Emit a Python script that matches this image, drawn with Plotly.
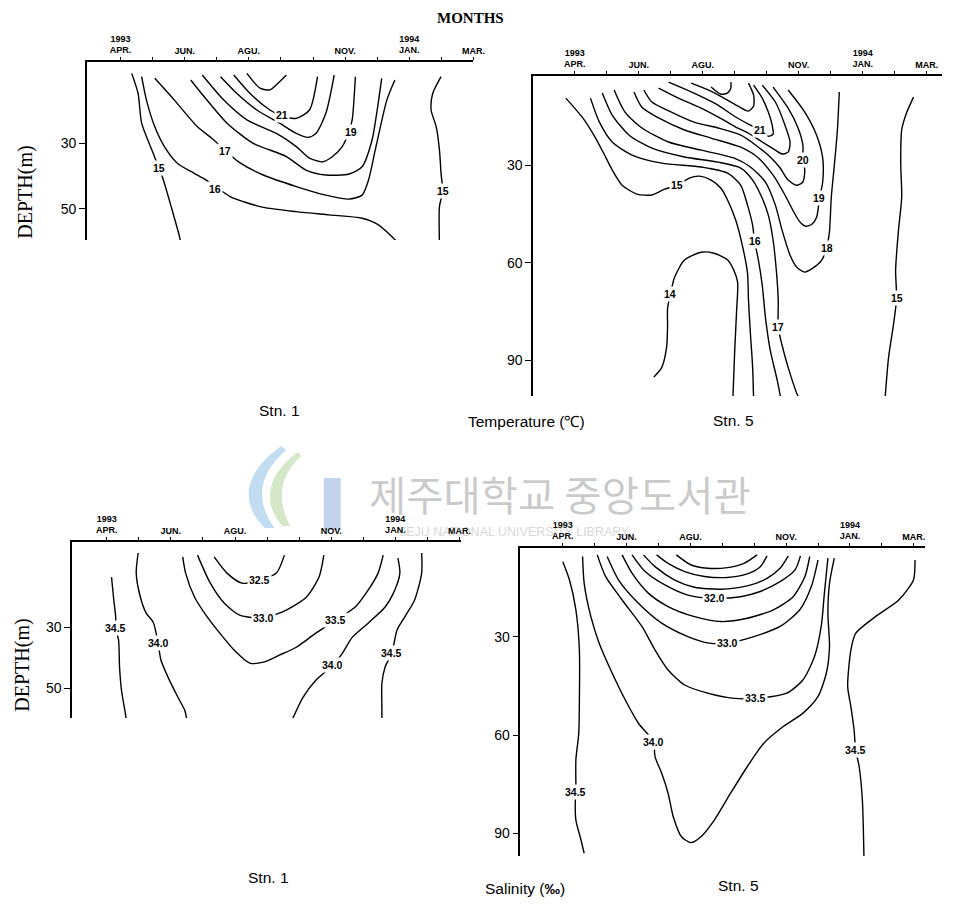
import plotly.graph_objects as go

W, H = 954, 911

# Month index along the sections: 0 = Apr 1993 ... 11 = Mar 1994
MONTH_VALS = list(range(12))
MONTH_TEXT = ["1993<br>APR.", "", "JUN.", "", "AGU.", "", "", "NOV.", "", "1994<br>JAN.", "", "MAR."]

# ---------------- Temperature, Stn. 1 : isotherms as (month, depth m) ----------------
T1_15_W = [(0.35, 8.9), (0.55, 15.0), (0.66, 24.0), (1.02, 33.1), (1.18, 37.2), (1.32, 40.7),
           (1.58, 49.3), (1.84, 58.4), (1.88, 60.5)]
T1_16 = [(0.66, 9.9), (0.81, 17.0), (1.07, 25.1), (1.37, 31.1), (1.78, 36.2), (2.30, 39.2),
         (2.66, 41.2), (3.43, 46.3), (3.84, 47.8), (4.45, 49.5), (5.48, 50.8), (6.50, 51.8),
         (7.53, 52.8), (8.04, 54.8), (8.61, 59.9), (8.65, 60.5)]
T1_17 = [(1.07, 10.4), (1.68, 17.0), (2.40, 25.1), (2.91, 29.1), (3.27, 32.3), (3.68, 35.7),
         (4.45, 39.7), (5.48, 43.2), (6.40, 45.8), (7.12, 47.0), (7.53, 45.8), (7.73, 41.2),
         (7.94, 32.1), (8.30, 17.0), (8.55, 10.9)]
T1_18 = [(2.19, 10.9), (2.61, 16.0), (3.32, 24.0), (4.14, 30.1), (5.17, 34.1), (5.78, 38.2),
         (6.40, 39.7), (7.12, 39.4), (7.53, 37.2), (7.84, 29.1), (8.00, 20.0), (8.14, 10.4)]
T1_19 = [(2.55, 9.4), (3.22, 17.0), (3.94, 23.0), (4.86, 27.1), (5.48, 31.1), (5.89, 34.6),
         (6.30, 35.7), (6.61, 34.1), (6.91, 31.1), (7.12, 26.6), (7.22, 23.0), (7.32, 9.9)]
T1_20 = [(3.12, 9.9), (3.63, 15.0), (4.25, 20.0), (4.96, 24.0), (5.48, 27.1), (5.84, 28.3),
         (6.09, 27.1), (6.40, 21.0), (6.66, 9.4)]
T1_21 = [(3.53, 9.4), (4.04, 15.0), (4.66, 20.0), (5.02, 21.8), (5.48, 22.5), (5.89, 20.0),
         (6.14, 9.9)]
T1_22 = [(3.94, 8.9), (4.35, 13.4), (4.66, 13.9), (4.91, 11.9), (5.17, 9.4)]
T1_15_E = [(9.99, 9.9), (9.73, 15.0), (9.68, 20.0), (9.84, 25.1), (9.94, 32.1), (9.99, 39.2),
           (10.04, 44.5), (9.94, 49.3), (9.94, 60.5)]
T1_LABELS = [("15", 1.20, 37.5), ("16", 2.96, 43.8), ("17", 3.27, 32.3), ("19", 7.17, 26.6),
             ("21", 5.02, 21.6), ("15", 10.04, 44.5)]

# ---------------- Temperature, Stn. 5 ----------------
T5_14 = [(2.47, 95.2), (2.72, 92.2), (2.87, 86.0), (2.90, 79.8), (2.90, 74.0), (2.99, 69.7),
         (3.12, 64.5), (3.43, 59.2), (3.95, 56.8), (4.35, 57.1), (4.78, 59.2), (4.97, 62.3),
         (5.09, 66.0), (5.06, 74.6), (5.00, 86.9), (4.94, 102.3)]
T5_15_W = [(-0.28, 9.4), (0.25, 15.5), (0.65, 21.7), (0.93, 26.9), (1.17, 31.5), (1.48, 36.2),
           (1.94, 38.9), (2.41, 39.2), (2.81, 37.4), (3.21, 36.2), (3.58, 34.0), (3.89, 33.4),
           (4.26, 34.6), (4.57, 37.1), (4.78, 40.8), (5.03, 46.9), (5.25, 55.2), (5.40, 63.2),
           (5.43, 71.5), (5.49, 81.7), (5.56, 92.2), (5.59, 102.3)]
T5_16 = [(0.49, 9.4), (0.77, 16.8), (1.17, 22.9), (1.79, 26.9), (2.72, 29.4), (3.95, 30.6),
         (4.78, 32.5), (5.19, 36.2), (5.40, 42.3), (5.56, 48.5), (5.62, 53.4), (5.74, 59.2),
         (5.86, 66.9), (5.96, 76.8), (6.11, 86.9), (6.33, 96.2), (6.45, 102.3)]
T5_17 = [(0.86, 7.8), (1.17, 14.6), (1.70, 20.8), (2.41, 24.8), (3.43, 27.5), (4.48, 29.1),
         (5.19, 30.9), (5.56, 34.6), (5.86, 40.2), (6.05, 45.4), (6.20, 53.1), (6.30, 62.3),
         (6.36, 71.5), (6.36, 79.8), (6.48, 85.4), (6.67, 92.2), (6.94, 100.2), (7.10, 103.8)]
T5_18 = [(1.23, 6.9), (1.57, 13.7), (2.10, 18.6), (2.93, 22.9), (3.95, 25.4), (4.97, 27.8),
         (5.49, 30.6), (5.96, 35.2), (6.27, 42.3), (6.48, 50.0), (6.73, 57.7), (6.94, 61.4),
         (7.19, 62.9), (7.44, 61.7), (7.72, 59.2), (7.87, 55.5), (7.96, 50.6), (8.02, 39.8),
         (8.12, 29.4), (8.21, 19.2), (8.27, 7.5)]
T5_19 = [(1.85, 7.5), (2.10, 12.2), (2.62, 15.5), (3.43, 19.2), (4.26, 21.7), (5.19, 24.5),
         (5.74, 27.8), (6.20, 33.1), (6.57, 39.2), (6.85, 44.5), (7.04, 47.5), (7.22, 48.8),
         (7.41, 48.2), (7.56, 46.0), (7.65, 40.2), (7.75, 35.2), (7.75, 27.8), (7.56, 20.8),
         (7.19, 13.7), (6.67, 6.9)]
T5_20 = [(2.16, 6.9), (2.41, 10.6), (3.02, 13.7), (3.73, 16.8), (4.48, 18.6), (5.19, 20.8),
         (5.65, 23.8), (6.11, 27.5), (6.42, 30.9), (6.67, 34.6), (6.94, 36.2), (7.13, 35.2),
         (7.19, 31.5), (7.13, 28.5), (7.13, 23.8), (6.98, 18.6), (6.67, 12.5), (6.20, 6.0)]
T5_205 = [(2.62, 6.3), (3.24, 9.4), (3.95, 12.5), (4.66, 16.2), (5.03, 18.3), (5.43, 20.2),
          (5.86, 22.9), (6.27, 25.4), (6.48, 26.6), (6.67, 26.0), (6.73, 22.9), (6.57, 17.7),
          (6.27, 10.6), (5.86, 5.4)]
T5_21 = [(2.93, 4.5), (3.64, 7.5), (4.41, 11.2), (5.03, 15.2), (5.49, 17.7), (5.80, 19.2),
         (6.05, 21.1), (6.20, 20.5), (6.17, 17.7), (6.05, 13.7), (5.86, 9.4), (5.59, 5.4)]
T5_22 = [(3.64, 4.8), (4.17, 6.9), (4.66, 9.4), (5.09, 11.8), (5.43, 13.4), (5.59, 11.8),
         (5.59, 8.5), (5.43, 4.8)]
T5_23 = [(4.26, 6.0), (4.57, 8.2), (4.78, 7.8), (4.88, 6.3), (4.88, 4.5)]
T5_15_E = [(10.59, 9.1), (10.37, 14.0), (10.22, 19.2), (10.19, 29.4), (10.22, 39.8), (10.12, 50.0),
           (10.03, 62.3), (10.06, 70.9), (9.97, 78.6), (9.81, 89.1), (9.72, 99.2), (9.70, 102.0)]
T5_LABELS = [("15", 3.21, 36.2), ("16", 5.62, 53.4), ("17", 6.36, 79.8), ("18", 7.87, 55.5),
             ("19", 7.65, 40.2), ("20", 7.13, 28.5), ("21", 5.80, 19.2), ("14", 2.99, 69.7),
             ("15", 10.06, 70.9)]

# ---------------- Salinity, Stn. 1 : isohalines ----------------
S1_345_W = [(0.15, 13.6), (0.22, 21.1), (0.28, 26.7), (0.28, 30.3), (0.37, 34.3), (0.40, 43.1),
            (0.46, 50.7), (0.58, 58.2), (0.61, 60.5)]
S1_340_W = [(0.98, 5.7), (0.92, 12.3), (1.05, 20.2), (1.23, 25.4), (1.45, 28.4), (1.60, 35.2),
            (1.69, 40.8), (1.91, 46.4), (2.22, 53.0), (2.43, 57.2), (2.50, 60.5)]
S1_335 = [(2.37, 7.0), (2.46, 12.3), (2.74, 20.2), (3.05, 25.4), (3.45, 31.0), (3.97, 37.5),
          (4.46, 41.8), (4.89, 41.5), (5.38, 39.2), (5.91, 36.6), (6.52, 32.0), (7.14, 27.7),
          (7.75, 23.4), (8.15, 17.9), (8.46, 12.3), (8.62, 6.4)]
S1_330 = [(2.83, 6.4), (3.23, 15.6), (3.66, 22.1), (4.15, 26.1), (4.89, 27.0), (5.60, 24.4),
          (6.22, 20.2), (6.62, 13.6), (6.77, 6.4)]
S1_325 = [(3.35, 7.0), (3.75, 12.3), (4.22, 15.6), (4.77, 14.6), (5.29, 12.3), (5.54, 6.4)]
S1_340_E = [(9.08, 7.4), (9.14, 12.3), (8.98, 17.9), (8.68, 23.4), (8.15, 28.7), (7.66, 33.3),
            (7.35, 38.5), (7.05, 42.5), (6.52, 47.4), (6.12, 53.0), (5.82, 59.5), (5.78, 60.5)]
S1_345_E = [(9.82, 5.7), (9.82, 12.3), (9.60, 21.1), (9.29, 26.7), (9.05, 31.0), (8.89, 38.5),
            (8.68, 43.1), (8.58, 48.4), (8.58, 57.2), (8.58, 60.5)]
S1_LABELS = [("34.5", 0.28, 30.3), ("34.0", 1.60, 35.2), ("33.5", 7.14, 27.7), ("33.0", 4.89, 27.0),
             ("32.5", 4.77, 14.6), ("34.0", 7.05, 42.5), ("34.5", 8.89, 38.5)]

# ---------------- Salinity, Stn. 5 ----------------
S5_305 = [(3.56, 4.9), (4.02, 8.0), (4.54, 9.0), (5.16, 8.8), (5.68, 7.5), (6.09, 4.9)]
S5_310 = [(2.94, 4.9), (3.30, 7.5), (3.82, 10.0), (4.44, 11.5), (5.16, 11.8), (5.78, 10.7),
          (6.19, 8.5), (6.40, 5.2)]
S5_315 = [(2.53, 4.9), (2.89, 8.5), (3.51, 12.6), (4.13, 14.8), (4.95, 15.4), (5.78, 14.4),
          (6.40, 12.1), (6.81, 9.0), (7.07, 5.2)]
S5_320 = [(2.17, 4.9), (2.58, 10.0), (3.20, 14.1), (3.92, 17.2), (4.75, 18.2), (5.57, 17.7),
          (6.19, 16.1), (6.81, 13.1), (7.28, 9.5), (7.45, 5.2)]
S5_325 = [(1.86, 4.9), (2.17, 10.5), (2.68, 16.6), (3.30, 20.7), (4.13, 23.8), (4.95, 25.3),
          (5.78, 24.3), (6.60, 21.7), (7.22, 17.7), (7.59, 11.5), (7.74, 5.4)]
S5_330 = [(1.39, 5.4), (1.75, 12.6), (2.37, 19.7), (3.10, 25.8), (3.92, 29.9), (4.59, 31.9),
          (5.16, 31.9), (5.99, 29.9), (6.81, 26.8), (7.43, 21.7), (7.79, 14.6), (8.00, 6.5)]
S5_335 = [(1.08, 4.9), (1.34, 11.5), (1.86, 18.7), (2.48, 26.8), (2.89, 34.0), (3.30, 40.1),
          (3.82, 44.7), (4.54, 47.2), (5.37, 48.8), (6.04, 48.8), (7.02, 47.2), (7.53, 43.1),
          (7.89, 36.0), (8.10, 26.8), (8.20, 16.6), (8.31, 5.9)]
S5_340 = [(0.62, 5.4), (0.67, 13.6), (0.88, 23.8), (1.14, 31.9), (1.55, 41.1), (1.96, 49.3),
          (2.37, 56.4), (2.84, 62.0), (2.89, 66.6), (3.10, 71.7), (3.30, 77.8), (3.46, 84.9),
          (3.72, 91.1), (4.02, 92.9), (4.33, 91.1), (4.75, 86.0), (5.26, 77.8), (5.78, 69.7),
          (6.30, 62.5), (6.91, 57.4), (7.53, 53.3), (8.00, 48.2), (8.26, 41.1), (8.36, 33.0),
          (8.31, 22.8), (8.36, 13.6), (8.51, 5.9)]
S5_345_W = [(0.00, 7.0), (0.21, 12.6), (0.41, 21.7), (0.52, 34.0), (0.52, 49.3), (0.50, 59.5),
            (0.41, 67.6), (0.41, 77.3), (0.39, 80.9), (0.41, 86.0), (0.57, 92.1), (0.67, 96.2)]
S5_345_E = [(11.04, 6.5), (10.99, 12.6), (10.53, 18.7), (9.80, 23.8), (9.18, 28.9), (9.03, 34.0),
            (8.93, 45.2), (9.03, 51.3), (9.13, 58.4), (9.18, 64.6), (9.29, 69.7), (9.39, 79.8),
            (9.44, 97.7)]
S5_LABELS = [("32.0", 4.75, 18.2), ("33.0", 5.16, 31.9), ("33.5", 6.04, 48.8), ("34.0", 2.84, 62.0),
             ("34.5", 0.41, 77.3), ("34.5", 9.18, 64.6)]

# ---------------- panel geometry (pixels of the 954x911 page) ----------------
def px_x(p):
    return p / W


def px_y(p):
    return 1 - p / H


PANELS = [
    # axis suffix, x domain px, y domain px (top, bottom), x range, y range (bottom, top), y ticks, lines, labels
    ("", (88, 479.5), (62, 240), (-1.046, 11.0), (59.4, 5.45), [30, 50],
     [T1_15_W, T1_16, T1_17, T1_18, T1_19, T1_20, T1_21, T1_22, T1_15_E], T1_LABELS),
    ("2", (540, 954), (76, 396), (-1.30, 11.48), (101.0, 2.6), [30, 60, 90],
     [T5_14, T5_15_W, T5_16, T5_17, T5_18, T5_19, T5_20, T5_205, T5_21, T5_22, T5_23, T5_15_E],
     T5_LABELS),
    ("3", (73, 467), (542, 718), (-1.08, 11.05), (59.8, 2.1), [30, 50],
     [S1_345_W, S1_340_W, S1_335, S1_330, S1_325, S1_340_E, S1_345_E], S1_LABELS),
    ("4", (527, 937), (548, 856), (-1.33, 11.36), (97.0, 2.8), [30, 60, 90],
     [S5_305, S5_310, S5_315, S5_320, S5_325, S5_330, S5_335, S5_340, S5_345_W, S5_345_E],
     S5_LABELS),
]

SANS = "Liberation Sans, Arial, sans-serif"
SERIF = "Liberation Serif, Times New Roman, serif"

fig = go.Figure()
annotations = []
layout = dict(
    width=W, height=H, margin=dict(l=0, r=0, t=0, b=0),
    paper_bgcolor="white", plot_bgcolor="rgba(0,0,0,0)", showlegend=False,
)

for suffix, xd, yd, xr, yr, yticks, lines, labels in PANELS:
    xa, ya = "x" + suffix, "y" + suffix
    for pts in lines:
        fig.add_trace(go.Scatter(
            x=[p[0] for p in pts], y=[p[1] for p in pts], mode="lines",
            line=dict(color="black", width=1.4, shape="spline", smoothing=0.7),
            xaxis=xa, yaxis=ya, hoverinfo="skip", showlegend=False,
        ))
    layout["xaxis" + suffix] = dict(
        domain=[px_x(xd[0]), px_x(xd[1])], range=list(xr), anchor=ya, side="top",
        showline=True, linecolor="black", linewidth=1.8, showgrid=False, zeroline=False,
        ticks="outside", ticklen=3, tickwidth=1, tickcolor="black",
        tickmode="array", tickvals=MONTH_VALS, ticktext=MONTH_TEXT,
        tickfont=dict(family=SANS, size=9, color="black", weight="bold"),
    )
    layout["yaxis" + suffix] = dict(
        domain=[px_y(yd[1]), px_y(yd[0])], range=list(yr), anchor=xa,
        showline=True, linecolor="black", linewidth=1.6, showgrid=False, zeroline=False,
        ticks="outside", ticklen=6, tickwidth=1, tickcolor="black",
        tickmode="array", tickvals=yticks, ticktext=[str(t) for t in yticks],
        tickfont=dict(family=SANS, size=14, color="black"),
    )
    for txt, mx, dy in labels:
        annotations.append(dict(
            x=mx, y=dy, xref=xa, yref=ya, text=txt, showarrow=False,
            font=dict(family=SANS, size=10.5, color="black", weight="bold"),
            bgcolor="white", borderpad=1, xanchor="center", yanchor="middle",
        ))


def paper_text(text, x, y, size, family=SANS, color="black", angle=0, weight="normal"):
    annotations.append(dict(
        x=px_x(x), y=px_y(y), xref="paper", yref="paper", text=text, showarrow=False,
        font=dict(family=family, size=size, color=color, weight=weight),
        textangle=angle, xanchor="center", yanchor="middle",
    ))


paper_text("MONTHS", 476, 18, 15, family=SERIF, weight="bold")
paper_text("DEPTH(m)", 25, 192, 20, family=SERIF, angle=-90)
paper_text("DEPTH(m)", 22, 665, 20, family=SERIF, angle=-90)
paper_text("Stn. 1", 283, 410, 15.5)
paper_text("Temperature (℃)", 533, 422, 15.5)
paper_text("Stn. 5", 743, 420, 15.5)
paper_text("Stn. 1", 272, 877, 15.5)
paper_text("Salinity (<b>‰</b>)", 532, 888, 15.5)
paper_text("Stn. 5", 748, 885, 15.5)

# library watermark
paper_text("제주대학교 중앙도서관", 567, 493, 40.5, family="Noto Sans CJK KR",
           color="rgba(150,150,150,0.5)")
paper_text("JEJU NATIONAL UNIVERSITY LIBRARY", 522, 532, 12.5, family=SANS,
           color="rgba(150,150,150,0.4)")


def px_path(points):
    segs = []
    for cmd, *xy in points:
        coords = " ".join(f"{px_x(xy[j]):.4f},{px_y(xy[j + 1]):.4f}" for j in range(0, len(xy), 2))
        segs.append(f"{cmd} {coords}")
    return " ".join(segs)


layout["shapes"] = [
    dict(type="path", xref="paper", yref="paper", layer="below",
         path=px_path([("M", 268, 528), ("C", 240, 500, 250, 470, 285, 446), ("L", 290, 450),
                       ("C", 262, 474, 258, 500, 278, 528), ("Z",)]),
         fillcolor="rgba(120,180,225,0.45)", line=dict(width=0)),
    dict(type="path", xref="paper", yref="paper", layer="below",
         path=px_path([("M", 286, 526), ("C", 262, 500, 275, 470, 302, 452), ("L", 305, 456),
                       ("C", 283, 476, 280, 500, 294, 526), ("Z",)]),
         fillcolor="rgba(160,205,130,0.45)", line=dict(width=0)),
    dict(type="rect", xref="paper", yref="paper", layer="below",
         x0=px_x(328), x1=px_x(345), y0=px_y(530), y1=px_y(478),
         fillcolor="rgba(120,160,215,0.45)", line=dict(width=0)),
]
layout["annotations"] = annotations
fig.update_layout(**layout)
fig.write_html("out.html")
